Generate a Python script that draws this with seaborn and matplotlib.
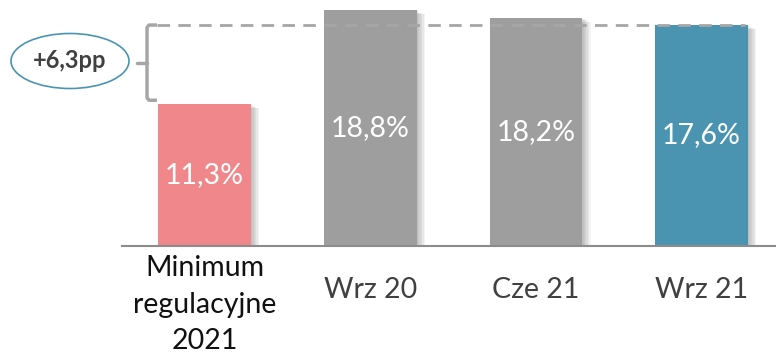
import matplotlib
matplotlib.use("Agg")
import matplotlib.pyplot as plt
import matplotlib.patheffects as pe
from matplotlib.patches import Ellipse
import seaborn as sns

categories = ["Minimum\nregulacyjne\n2021", "Wrz 20", "Cze 21", "Wrz 21"]
values = [11.3, 18.8, 18.2, 17.6]
value_labels = ["11,3%", "18,8%", "18,2%", "17,6%"]
bar_colors = ["#F0878B", "#9E9E9E", "#9E9E9E", "#4A94B1"]
label_colors = ["#111111", "#404040", "#404040", "#404040"]
gap_label = "+6,3pp"

sns.set_theme(style="white")
plt.rcParams["font.family"] = ["Lato", "DejaVu Sans"]

fig = plt.figure(figsize=(7.76, 3.56), dpi=100)
ax = fig.add_axes([122 / 776, 1 - 245.6 / 356, 654 / 776, 245.6 / 356])

sns.barplot(x=categories, y=values, hue=categories, palette=bar_colors,
            width=0.56, legend=False, saturation=1, ax=ax, zorder=2)

# soft drop shadow on every bar
shadow = [pe.SimplePatchShadow(offset=(dx, -dy), shadow_rgbFace="#555555", alpha=0.07)
          for dx, dy in [(1, 1), (2, 1), (3, 2), (4, 2), (5, 3), (6, 3)]]
for p in ax.patches:
    p.set_linewidth(0)
    p.set_path_effects(shadow + [pe.Normal()])

ax.set_xlim(-0.498, 3.449)
ax.set_ylim(0, 19.6)

# value labels inside the bars
for i, (v, lab) in enumerate(zip(values, value_labels)):
    ax.text(i, v / 2, lab, ha="center", va="center", color="white",
            fontsize=20.5, zorder=5)

# dashed reference line at the latest level
ref = values[3]
ax.plot([-0.285, 3.26], [ref, ref], color="#A6A6A6", lw=2,
        dashes=(4.5, 3), zorder=4, clip_on=False)

# curly bracket spanning the gap
top = ref
bot = values[0] + 0.3
mid = (top + bot) / 2
xb, xh, xn = -0.347, -0.287, -0.407
ax.plot([xh, xb + 0.012, xb, xb, xb, xb + 0.012, xh],
        [top, top, top - 0.2, mid, bot + 0.2, bot, bot],
        color="#A6A6A6", lw=2.5, solid_joinstyle="round",
        solid_capstyle="butt", clip_on=False, zorder=3)
ax.plot([xn, xb], [mid, mid], color="#A6A6A6", lw=2.5, clip_on=False, zorder=3)

# ellipse with the difference
ell = Ellipse((70 / 776, 1 - 61 / 356), 118 / 776, 55 / 356,
              transform=fig.transFigure, facecolor="white",
              edgecolor="#4A94B1", lw=1.2)
fig.add_artist(ell)
fig.text(70 / 776, 1 - 61 / 356, gap_label, ha="center", va="center",
         fontsize=17, fontweight="bold", color="#404040")

# axes styling
for s in ["left", "right", "top"]:
    ax.spines[s].set_visible(False)
ax.spines["bottom"].set_color("#8C8C8C")
ax.spines["bottom"].set_linewidth(1.5)
ax.set_yticks([])
ax.set_xlabel("")
ax.set_ylabel("")
ax.tick_params(axis="x", length=0, pad=0, labelsize=20.5)
for i, t in enumerate(ax.get_xticklabels()):
    t.set_va("center")
    t.set_color(label_colors[i])
    t.set_linespacing(1.52)
    t.set_y(-0.18 if i else -0.24)

fig.savefig("out.png", dpi=100)
